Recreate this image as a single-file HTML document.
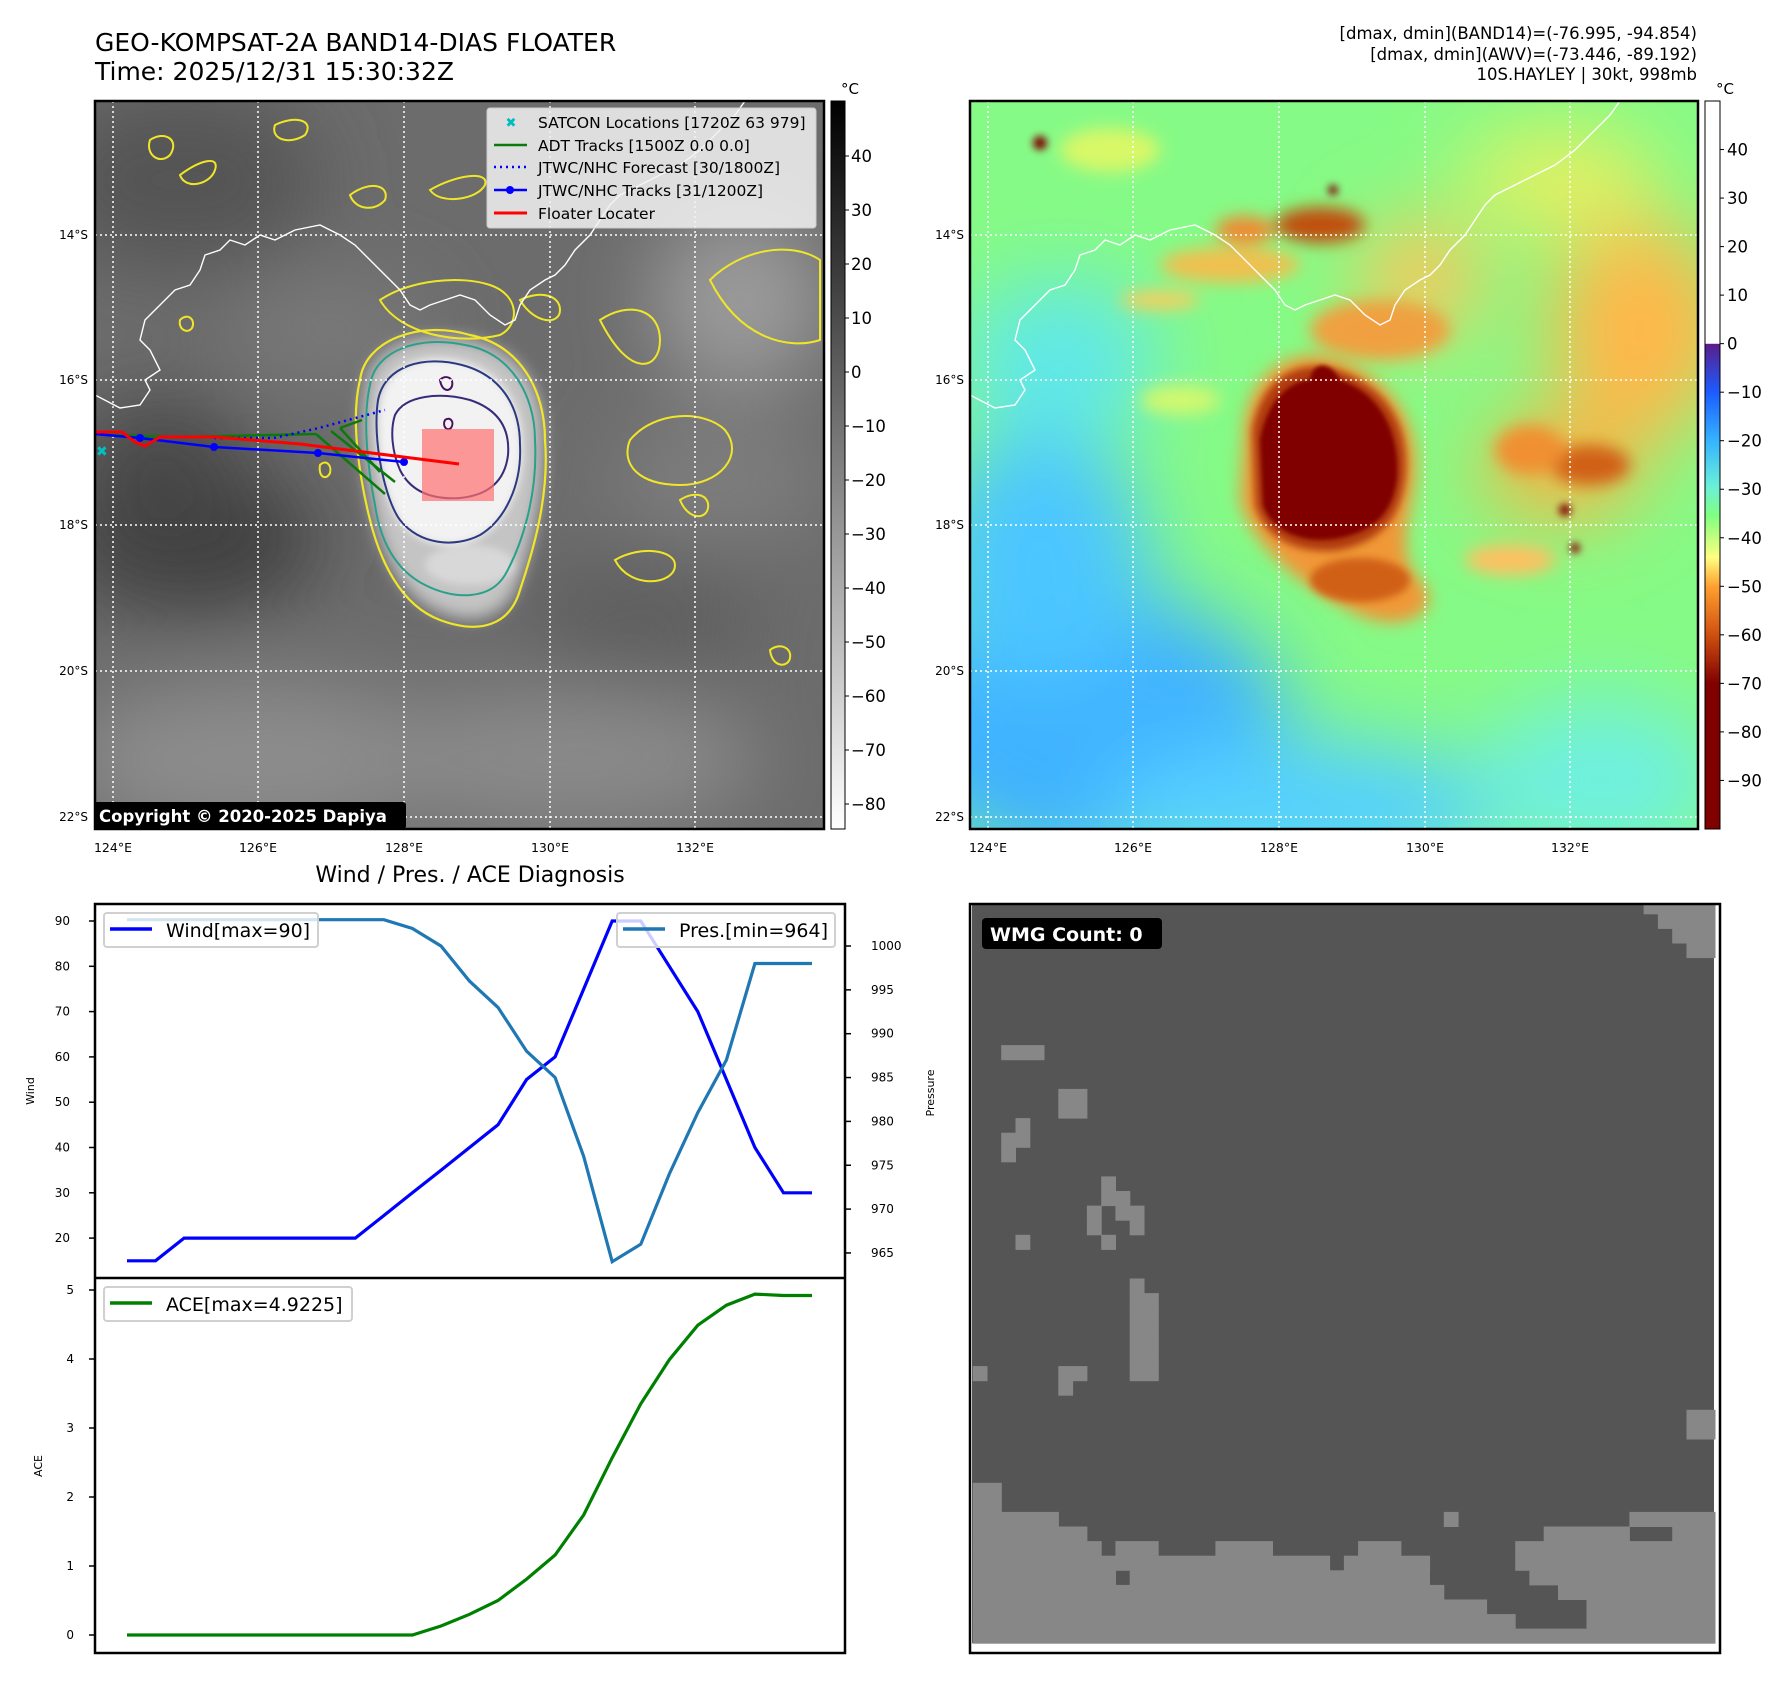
<!DOCTYPE html>
<html><head><meta charset="utf-8">
<style>
html,body{margin:0;padding:0;background:#fff;}
svg{display:block;font-family:"DejaVu Sans","Liberation Sans",sans-serif;}
</style></head>
<body>
<svg id="root" width="1788" height="1690" viewBox="0 0 1788 1690" xmlns="http://www.w3.org/2000/svg">
<defs>
  <filter id="b8" x="-50%" y="-50%" width="200%" height="200%"><feGaussianBlur stdDeviation="8"/></filter>
  <filter id="b20" x="-50%" y="-50%" width="200%" height="200%"><feGaussianBlur stdDeviation="20"/></filter>
  <filter id="b40" x="-50%" y="-50%" width="200%" height="200%"><feGaussianBlur stdDeviation="40"/></filter>
  <filter id="b4" x="-50%" y="-50%" width="200%" height="200%"><feGaussianBlur stdDeviation="4"/></filter>
  <filter id="b2" x="-50%" y="-50%" width="200%" height="200%"><feGaussianBlur stdDeviation="2"/></filter>
  <clipPath id="clipL"><rect x="95" y="101" width="729" height="728"/></clipPath>
  <clipPath id="clipR"><rect x="970" y="101" width="728" height="728"/></clipPath>
  <linearGradient id="cbGray" x1="0" y1="0" x2="0" y2="1">
    <stop offset="0" stop-color="#000"/><stop offset="1" stop-color="#fff"/>
  </linearGradient>
  <linearGradient id="cbJet" x1="0" y1="0" x2="0" y2="1">
    <stop offset="0" stop-color="#ffffff"/>
    <stop offset="0.333" stop-color="#ffffff"/>
    <stop offset="0.334" stop-color="#5a1e8c"/>
    <stop offset="0.40" stop-color="#1c5cff"/>
    <stop offset="0.467" stop-color="#35b4ff"/>
    <stop offset="0.53" stop-color="#6af0d8"/>
    <stop offset="0.57" stop-color="#80ff80"/>
    <stop offset="0.627" stop-color="#ffff80"/>
    <stop offset="0.667" stop-color="#ffa030"/>
    <stop offset="0.733" stop-color="#d05010"/>
    <stop offset="0.80" stop-color="#800000"/>
    <stop offset="1" stop-color="#800000"/>
  </linearGradient>
</defs>

<!-- ================= LEFT MAP ================= -->
<text x="95" y="51" font-size="25" fill="#000">GEO-KOMPSAT-2A BAND14-DIAS FLOATER</text>
<text x="95" y="80" font-size="25" fill="#000">Time: 2025/12/31 15:30:32Z</text>

<g clip-path="url(#clipL)">
  <rect x="95" y="101" width="729" height="728" fill="#6c6c6c"/>
  <g filter="url(#b40)">
    <ellipse cx="180" cy="180" rx="140" ry="90" fill="#555"/>
    <ellipse cx="190" cy="540" rx="130" ry="70" fill="#3e3e3e"/>
    <ellipse cx="160" cy="470" rx="90" ry="70" fill="#474747"/>
    <ellipse cx="260" cy="760" rx="200" ry="80" fill="#8c8c8c"/>
    <ellipse cx="560" cy="760" rx="200" ry="70" fill="#8a8a8a"/>
    <ellipse cx="740" cy="300" rx="90" ry="90" fill="#9a9a9a"/>
    <ellipse cx="720" cy="480" rx="110" ry="60" fill="#7e7e7e"/>
    <ellipse cx="330" cy="330" rx="100" ry="50" fill="#7a7a7a"/>
    <ellipse cx="640" cy="620" rx="120" ry="60" fill="#5e5e5e"/>
  </g>
  <g filter="url(#b8)">
    <path d="M365,390 C370,345 420,330 470,340 C520,350 545,390 543,440 C545,500 528,560 515,590 C500,620 470,625 440,612 C405,598 385,560 375,520 C365,480 358,420 365,390 Z" fill="#c4c4c4"/>
  </g>
  <g filter="url(#b4)">
    <path d="M380,400 C388,362 428,352 464,362 C502,372 522,405 522,445 C524,488 506,522 480,537 C455,550 420,547 400,522 C384,500 373,440 380,400 Z" fill="#f2f2f2"/>
    <ellipse cx="470" cy="565" rx="45" ry="20" fill="#d8d8d8"/>
  </g>
  <!-- contours -->
  <path d="M360,380 C365,340 420,320 470,335 C520,345 545,390 545,440 C550,500 530,560 520,590 C510,625 480,635 440,620 C400,605 380,560 370,520 C360,480 350,420 360,380 Z" fill="none" stroke="#f0e628" stroke-width="2.2"/>
  <path d="M370,385 C375,350 420,335 465,345 C510,352 535,395 535,440 C538,495 522,545 505,575 C490,600 455,600 425,585 C395,570 380,540 375,505 C368,470 362,420 370,385 Z" fill="none" stroke="#2aa08a" stroke-width="2"/>
  <path d="M378,400 C385,365 425,355 462,365 C500,375 520,405 520,445 C522,485 505,520 480,535 C455,548 420,545 400,520 C385,500 372,440 378,400 Z" fill="none" stroke="#2b3a80" stroke-width="2"/>
  <path d="M395,415 C405,395 440,392 470,400 C500,410 510,430 508,455 C505,480 490,495 460,498 C430,500 410,490 400,470 C392,452 390,430 395,415 Z" fill="none" stroke="#3a2a7a" stroke-width="2"/>
  <path d="M440,380 c6,-6 14,-2 12,6 c-2,6 -10,6 -12,-6 Z M445,420 c5,-4 10,2 6,8 c-4,4 -9,-2 -6,-8 Z" fill="none" stroke="#4a1060" stroke-width="2"/>
  <g fill="none" stroke="#f0e628" stroke-width="2">
    <path d="M150,140 c15,-10 30,0 20,15 c-10,10 -25,0 -20,-15 Z"/>
    <path d="M180,175 c20,-15 40,-20 35,-5 c-5,15 -30,20 -35,5 Z"/>
    <path d="M275,125 c20,-10 40,-5 30,10 c-15,10 -35,5 -30,-10 Z"/>
    <path d="M350,195 c20,-15 40,-10 35,5 c-10,12 -30,10 -35,-5 Z"/>
    <path d="M430,190 c25,-15 60,-20 55,-5 c-8,15 -45,20 -55,5 Z"/>
    <path d="M380,300 c30,-20 80,-25 110,-15 c30,10 30,40 10,50 c-40,10 -100,0 -120,-35 Z"/>
    <path d="M520,300 c20,-10 40,-5 40,10 c0,15 -25,15 -40,-10 Z"/>
    <path d="M600,320 c30,-20 60,-10 60,20 c0,30 -30,40 -60,-20 Z"/>
    <path d="M630,440 c25,-30 75,-30 95,-10 c20,25 -5,55 -45,55 c-40,0 -60,-20 -50,-45 Z"/>
    <path d="M710,280 c30,-30 80,-40 110,-20 l0,80 c-30,10 -80,0 -110,-60 Z"/>
    <path d="M680,500 c15,-10 30,-5 28,8 c-2,12 -20,12 -28,-8 Z"/>
    <path d="M615,560 c25,-15 60,-10 60,5 c0,20 -45,25 -60,-5 Z"/>
    <path d="M770,650 c10,-8 22,-2 20,8 c-2,10 -18,10 -20,-8 Z"/>
    <path d="M320,465 c6,-6 12,0 10,8 c-4,8 -12,4 -10,-8 Z"/>
    <path d="M180,320 c8,-8 16,0 12,8 c-4,6 -14,2 -12,-8 Z"/>
  </g>
  <!-- grid -->
  <g stroke="#fff" stroke-width="1.5" stroke-dasharray="2,3">
    <line x1="95" y1="235" x2="824" y2="235"/><line x1="95" y1="380" x2="824" y2="380"/>
    <line x1="95" y1="525" x2="824" y2="525"/><line x1="95" y1="671" x2="824" y2="671"/>
    <line x1="95" y1="817" x2="824" y2="817"/>
    <line x1="113" y1="101" x2="113" y2="829"/><line x1="258" y1="101" x2="258" y2="829"/>
    <line x1="404" y1="101" x2="404" y2="829"/><line x1="550" y1="101" x2="550" y2="829"/>
    <line x1="695" y1="101" x2="695" y2="829"/>
  </g>
  <polyline id="coastL" fill="none" stroke="#fff" stroke-width="1.4"
   points="95,395 120,408 140,405 150,390 145,380 160,370 150,350 140,340 145,320 165,300 175,290 190,285 200,270 205,255 220,250 230,240 245,245 260,235 275,240 295,230 320,225 340,235 355,245 370,260 385,275 400,290 410,305 420,310 430,305 445,300 460,295 475,300 490,315 505,325 515,320 520,305 530,290 545,280 555,275 565,265 575,250 590,235 600,220 610,205 620,195 640,185 660,175 680,165 700,150 720,130 735,115 745,101"/>
  <!-- floater -->
  <rect x="422" y="429" width="72" height="72" fill="#ff7070" opacity="0.7"/>
  <!-- tracks -->
  <g stroke="#0a7a0a" stroke-width="2.5" fill="none">
    <line x1="316" y1="434" x2="385" y2="494"/><line x1="331" y1="431" x2="395" y2="482"/>
    <line x1="340" y1="428" x2="380" y2="472"/><line x1="340" y1="428" x2="362" y2="420"/>
    <polyline points="95,434 140,436 180,437 316,434"/>
  </g>
  <polyline points="214,438 274,438 319,428 385,410" fill="none" stroke="#0000ff" stroke-width="2.5" stroke-dasharray="2,4"/>
  <polyline points="95,434 140,438 214,447 318,453 404,462" fill="none" stroke="#0000ff" stroke-width="2.5"/>
  <g fill="#0000ff"><circle cx="140" cy="438" r="4"/><circle cx="214" cy="447" r="4"/><circle cx="318" cy="453" r="4"/><circle cx="404" cy="462" r="4"/></g>
  <polyline points="95,432 122,432 135,442 145,446 160,437 215,437 300,444 459,464" fill="none" stroke="#ff0000" stroke-width="3"/>
  <text x="96" y="456" font-size="14" fill="#00c0c0" font-weight="bold">✖</text>
  <!-- legend -->
  <g>
    <rect x="487" y="108" width="329" height="120" fill="#f2f2f2" fill-opacity="0.85" stroke="#ccc" rx="3"/>
    <text x="511" y="127" font-size="13" fill="#00bcbc" font-weight="bold" text-anchor="middle">✖</text>
    <line x1="494" y1="145" x2="527" y2="145" stroke="#0a7a0a" stroke-width="2.5"/>
    <line x1="494" y1="167" x2="527" y2="167" stroke="#0000ff" stroke-width="2.5" stroke-dasharray="2,4"/>
    <line x1="494" y1="190" x2="527" y2="190" stroke="#0000ff" stroke-width="2.5"/><circle cx="510" cy="190" r="4" fill="#0000ff"/>
    <line x1="494" y1="213" x2="527" y2="213" stroke="#ff0000" stroke-width="3"/>
    <g font-size="15.5" fill="#000">
      <text x="538" y="128">SATCON Locations [1720Z 63 979]</text>
      <text x="538" y="151">ADT Tracks [1500Z 0.0 0.0]</text>
      <text x="538" y="173">JTWC/NHC Forecast [30/1800Z]</text>
      <text x="538" y="196">JTWC/NHC Tracks [31/1200Z]</text>
      <text x="538" y="219">Floater Locater</text>
    </g>
  </g>
  <rect x="94" y="802" width="312" height="27" fill="#000" rx="3"/>
  <text x="99" y="822" font-size="16.5" font-weight="bold" fill="#fff">Copyright © 2020-2025 Dapiya</text>
</g>
<rect x="95" y="101" width="729" height="728" fill="none" stroke="#000" stroke-width="2.5"/>
<g font-size="12" fill="#000" text-anchor="end">
  <text x="88" y="239">14°S</text><text x="88" y="384">16°S</text><text x="88" y="529">18°S</text><text x="88" y="675">20°S</text><text x="88" y="821">22°S</text>
</g>
<g font-size="12.5" fill="#000" text-anchor="middle">
  <text x="113" y="852">124°E</text><text x="258" y="852">126°E</text><text x="404" y="852">128°E</text><text x="550" y="852">130°E</text><text x="695" y="852">132°E</text>
</g>
<rect x="831" y="101" width="14" height="728" fill="url(#cbGray)" stroke="#000" stroke-width="1"/>
<text x="850" y="94" font-size="15" text-anchor="middle">°C</text>
<g id="cbLticks" font-size="16.5" fill="#000"></g>

<!-- ================= RIGHT MAP ================= -->
<g font-size="16.5" fill="#000" text-anchor="end">
  <text x="1697" y="39">[dmax, dmin](BAND14)=(-76.995, -94.854)</text>
  <text x="1697" y="60">[dmax, dmin](AWV)=(-73.446, -89.192)</text>
  <text x="1697" y="80">10S.HAYLEY | 30kt, 998mb</text>
</g>
<g clip-path="url(#clipR)">
  <rect x="970" y="101" width="728" height="728" fill="#86fa86"/>
  <g filter="url(#b40)">
    <ellipse cx="1090" cy="730" rx="200" ry="140" fill="#3fb2ff"/>
    <ellipse cx="1040" cy="560" rx="110" ry="130" fill="#4cc6ff"/>
    <ellipse cx="1300" cy="810" rx="200" ry="70" fill="#55d0ff"/>
    <ellipse cx="1600" cy="780" rx="120" ry="80" fill="#6ef0e0"/>
    <ellipse cx="1060" cy="360" rx="100" ry="80" fill="#60e8e8"/>
    <ellipse cx="1640" cy="330" rx="90" ry="110" fill="#ffb848"/>
    <ellipse cx="1560" cy="180" rx="100" ry="50" fill="#e8f060"/>
    <ellipse cx="1420" cy="280" rx="60" ry="60" fill="#ffc458"/>
    <ellipse cx="1560" cy="470" rx="80" ry="50" fill="#ffb040"/>
  </g>
  <g filter="url(#b8)">
    <ellipse cx="1110" cy="150" rx="50" ry="22" fill="#d8f868"/>
    <ellipse cx="1230" cy="265" rx="70" ry="18" fill="#f0c050"/>
    <ellipse cx="1320" cy="225" rx="45" ry="18" fill="#c05010"/>
    <ellipse cx="1245" cy="230" rx="30" ry="14" fill="#f08a30"/>
    <ellipse cx="1160" cy="300" rx="40" ry="10" fill="#f0d060"/>
    <ellipse cx="1590" cy="465" rx="40" ry="20" fill="#d06018"/>
    <ellipse cx="1530" cy="450" rx="35" ry="25" fill="#f09030"/>
    <ellipse cx="1510" cy="560" rx="45" ry="15" fill="#ffc060"/>
    <ellipse cx="1380" cy="330" rx="70" ry="30" fill="#f0a040"/>
    <ellipse cx="1180" cy="400" rx="40" ry="15" fill="#d0f870"/>
  </g>
  <g filter="url(#b8)">
    <path d="M1245,420 C1255,365 1300,345 1340,360 C1400,385 1420,430 1415,480 C1410,520 1395,555 1420,580 C1450,610 1400,640 1350,610 C1290,580 1250,540 1240,500 Z" fill="#f09838"/>
  </g>
  <g filter="url(#b4)">
    <path d="M1252,430 C1262,375 1300,358 1338,370 C1395,390 1410,435 1405,480 C1400,515 1385,540 1340,550 C1300,555 1265,540 1255,505 Z" fill="#b03a10"/>
    <ellipse cx="1360" cy="580" rx="50" ry="22" fill="#d06018"/>
  </g>
  <g filter="url(#b2)">
    <path d="M1260,440 C1268,395 1295,380 1310,380 C1312,362 1330,360 1340,380 C1385,395 1400,440 1397,478 C1393,510 1378,530 1340,538 C1305,545 1272,532 1263,505 Z" fill="#800000"/>
  </g>
  <g fill="#800000" filter="url(#b4)"><circle cx="1040" cy="143" r="7"/><circle cx="1565" cy="510" r="6"/><circle cx="1575" cy="548" r="5"/><circle cx="1333" cy="190" r="5"/></g>
  <g stroke="#fff" stroke-width="1.5" stroke-dasharray="2,3">
    <line x1="970" y1="235" x2="1698" y2="235"/><line x1="970" y1="380" x2="1698" y2="380"/>
    <line x1="970" y1="525" x2="1698" y2="525"/><line x1="970" y1="671" x2="1698" y2="671"/>
    <line x1="970" y1="817" x2="1698" y2="817"/>
    <line x1="988" y1="101" x2="988" y2="829"/><line x1="1133" y1="101" x2="1133" y2="829"/>
    <line x1="1279" y1="101" x2="1279" y2="829"/><line x1="1425" y1="101" x2="1425" y2="829"/>
    <line x1="1570" y1="101" x2="1570" y2="829"/>
  </g>
  <use href="#coastL" transform="translate(875,0)"/>
</g>
<rect x="970" y="101" width="728" height="728" fill="none" stroke="#000" stroke-width="2.5"/>
<g font-size="12" fill="#000" text-anchor="end">
  <text x="964" y="239">14°S</text><text x="964" y="384">16°S</text><text x="964" y="529">18°S</text><text x="964" y="675">20°S</text><text x="964" y="821">22°S</text>
</g>
<g font-size="12.5" fill="#000" text-anchor="middle">
  <text x="988" y="852">124°E</text><text x="1133" y="852">126°E</text><text x="1279" y="852">128°E</text><text x="1425" y="852">130°E</text><text x="1570" y="852">132°E</text>
</g>
<rect x="1705" y="101" width="15" height="728" fill="url(#cbJet)" stroke="#000" stroke-width="1"/>
<text x="1725" y="94" font-size="15" text-anchor="middle">°C</text>
<g id="cbRticks" font-size="16.5" fill="#000"></g>

<!-- ================= DIAGNOSIS CHART ================= -->
<text x="470" y="882" font-size="22" text-anchor="middle" fill="#000">Wind / Pres. / ACE Diagnosis</text>
<g id="chart"></g>

<!-- ================= WMG PANEL ================= -->
<g id="wmg"></g>
</svg>

<script>
// ---- chart data ----
const stepIdx = [0,1,2,3,4,5,6,7,8,9,10,11,12,13,14,15,16,17,18,19,20,21,22,23,24];
const windVals = [15,15,20,20,20,20,20,20,20,25,30,35,40,45,55,60,75,90,90,80,70,55,40,30,30];
const presVals = [1003,1003,1003,1003,1003,1003,1003,1003,1003,1003,1002,1000,996,993,988,985,976,964,966,974,981,987,998,998,998];
const aceVals = [0,0,0,0,0,0,0,0,0,0,0,0.13,0.30,0.50,0.81,1.16,1.74,2.57,3.35,3.99,4.49,4.78,4.94,4.92,4.92];
const windTicks = [20,30,40,50,60,70,80,90];
const presTicks = [965,970,975,980,985,990,995,1000];
const aceTicks = [0,1,2,3,4,5];
const grayCbTicks = [40,30,20,10,0,-10,-20,-30,-40,-50,-60,-70,-80];
const jetCbTicks = [40,30,20,10,0,-10,-20,-30,-40,-50,-60,-70,-80,-90];

const NS = 'http://www.w3.org/2000/svg';
function mk(tag, attrs, parent){const e=document.createElementNS(NS,tag);for(const k in attrs)e.setAttribute(k,attrs[k]);parent.appendChild(e);return e;}

// axis functions
const X0=95, X1=845, TOP=904, MID=1278, BOT=1653;
const xScale = i => 127 + (812-127) * i / (stepIdx.length-1);
const yWind = v => 921 + (90 - v) * 4.53;
const yPres = v => 946 + (1000 - v) * 8.77;
const yAce = v => 1635 - v * 69;
const yGray = v => 156 + (40 - v) * 5.4;
const yJet = v => 101 + (50 - v) * 4.853;

// colorbar ticks
const cbL = document.getElementById('cbLticks');
grayCbTicks.forEach(v=>{
  const t=mk('line',{x1:845,x2:849,y1:yGray(v),y2:yGray(v),stroke:'#000'},cbL);
  
  
  const l=mk('text',{x:851,y:yGray(v)+6},cbL); l.textContent=String(v).replace('-','−');
  
  
});
const cbR = document.getElementById('cbRticks');
jetCbTicks.forEach(v=>{
  const t=mk('line',{x1:1720,x2:1724,y1:yJet(v),y2:yJet(v),stroke:'#000'},cbR);
  
  
  const l=mk('text',{x:1727,y:yJet(v)+6},cbR); l.textContent=String(v).replace('-','−');
  
  
});

// chart
const ch = document.getElementById('chart');
mk('rect',{x:X0,y:TOP,width:X1-X0,height:BOT-TOP,fill:'#fff'},ch);
function pts(vals, yf){return vals.map((v,i)=>xScale(stepIdx[i]).toFixed(1)+','+yf(v).toFixed(1)).join(' ');}
const wl=mk('polyline',{points:pts(windVals,yWind),fill:'none',stroke:'#0000ff','stroke-width':3.2},ch);


const pl=mk('polyline',{points:pts(presVals,yPres),fill:'none',stroke:'#1f77b4','stroke-width':3.2},ch);


const al=mk('polyline',{points:pts(aceVals,yAce),fill:'none',stroke:'#008000','stroke-width':3.2},ch);


// ticks
windTicks.forEach(v=>{
  mk('line',{x1:X0-6,x2:X0,y1:yWind(v),y2:yWind(v),stroke:'#000','stroke-width':1.5},ch);
  const t=mk('text',{x:X0-25,y:yWind(v)+4,'font-size':12,'text-anchor':'end'},ch);t.textContent=v;
  
  
});
presTicks.forEach(v=>{
  mk('line',{x1:X1,x2:X1+6,y1:yPres(v),y2:yPres(v),stroke:'#000','stroke-width':1.5},ch);
  const t=mk('text',{x:X1+26,y:yPres(v)+4,'font-size':12},ch);t.textContent=v;
  
  
});
aceTicks.forEach(v=>{
  mk('line',{x1:X0-6,x2:X0,y1:yAce(v),y2:yAce(v),stroke:'#000','stroke-width':1.5},ch);
  const t=mk('text',{x:X0-21,y:yAce(v)+4,'font-size':12,'text-anchor':'end'},ch);t.textContent=v;
  
  
});
mk('rect',{x:X0,y:TOP,width:X1-X0,height:BOT-TOP,fill:'none',stroke:'#000','stroke-width':2.5},ch);
mk('line',{x1:X0,x2:X1,y1:MID,y2:MID,stroke:'#000','stroke-width':2.5},ch);
function ylab(txt,x,y,name){const t=mk('text',{x:x,y:y,'font-size':11,'text-anchor':'middle',transform:'rotate(-90 '+x+' '+y+')'},ch);t.textContent=txt;
  
  }
ylab('Wind',34,1091,'wind-axis-title');
ylab('Pressure',934,1093,'pressure-axis-title');
ylab('ACE',42,1466,'ace-axis-title');
function legend(x,y,w,color,label,name){
  const g=mk('g',{},ch);
  
  
  mk('rect',{x:x,y:y,width:w,height:34,fill:'#fff','fill-opacity':0.8,stroke:'#d0d0d0','stroke-width':2,rx:3},g);
  mk('line',{x1:x+6,x2:x+48,y1:y+16,y2:y+16,stroke:color,'stroke-width':3.5},g);
  const t=mk('text',{x:x+62,y:y+24,'font-size':19},g);t.textContent=label;
}
legend(104,913,214,'#0000ff','Wind[max=90]','wind-legend');
legend(617,913,218,'#1f77b4','Pres.[min=964]','pressure-legend');
legend(104,1287,248,'#008000','ACE[max=4.9225]','ace-legend');

// WMG panel
const wmgRows = [
 [[47,52]],[[48,52]],[[49,52]],[[50,52]],[],[],[],[],[],[],
 [[2,5]],[],[],[[6,8]],[[6,8]],[[3,4]],[[2,4]],[[2,3]],[],[[9,10]],
 [[9,11]],[[8,9],[10,12]],[[8,9],[11,12]],[[3,4],[9,10]],[],[],[[11,12]],[[11,13]],[[11,13]],[[11,13]],
 [[11,13]],[[11,13]],[[0,1],[6,8],[11,13]],[[6,7]],[],[[50,52]],[[50,52]],[],[],[],
 [[0,2]],[[0,2]],[[0,6],[33,34],[46,52]],[[0,8],[40,46],[49,52]],[[0,9],[10,13],[17,21],[27,30],[38,52]],
 [[0,25],[26,32],[38,52]],[[0,10],[11,32],[39,52]],[[0,33],[41,52]],[[0,36],[43,52]],[[0,38],[43,52]],[[0,52]]
];
const wg=document.getElementById('wmg');
const WX0=970, WY0=904, WX1=1720, WY1=1653;
const cellX = c => 894 + (138 + 25.04*c)/1.754;
const cellY = r => 850 + (92 + 27.25*r)/1.868;
mk('rect',{x:WX0,y:WY0,width:WX1-WX0,height:WY1-WY0,fill:'#fff'},wg);
mk('rect',{x:972,y:905,width:1714-972,height:cellY(51)-905,fill:'#555555'},wg);
wmgRows.forEach((row,r)=>{
  row.forEach(([c1,c2])=>{
    const y1=Math.max(905,cellY(r)), y2=cellY(r+1);
    const x2=Math.min(1715,cellX(c2));
    const e=mk('rect',{x:cellX(c1).toFixed(1),y:y1.toFixed(1),width:(x2-cellX(c1)+0.5).toFixed(1),height:(y2-y1+0.5).toFixed(1),fill:'#878787'},wg);
    
    
  });
});
mk('rect',{x:WX0,y:WY0,width:WX1-WX0,height:WY1-WY0,fill:'none',stroke:'#000','stroke-width':2.5},wg);
const wb=mk('rect',{x:982,y:918,width:180,height:31,rx:4,fill:'#000'},wg);


const wt=mk('text',{x:990,y:941,'font-size':19,'font-weight':'bold',fill:'#fff'},wg);wt.textContent='WMG Count: 0';


</script>
</body></html>
